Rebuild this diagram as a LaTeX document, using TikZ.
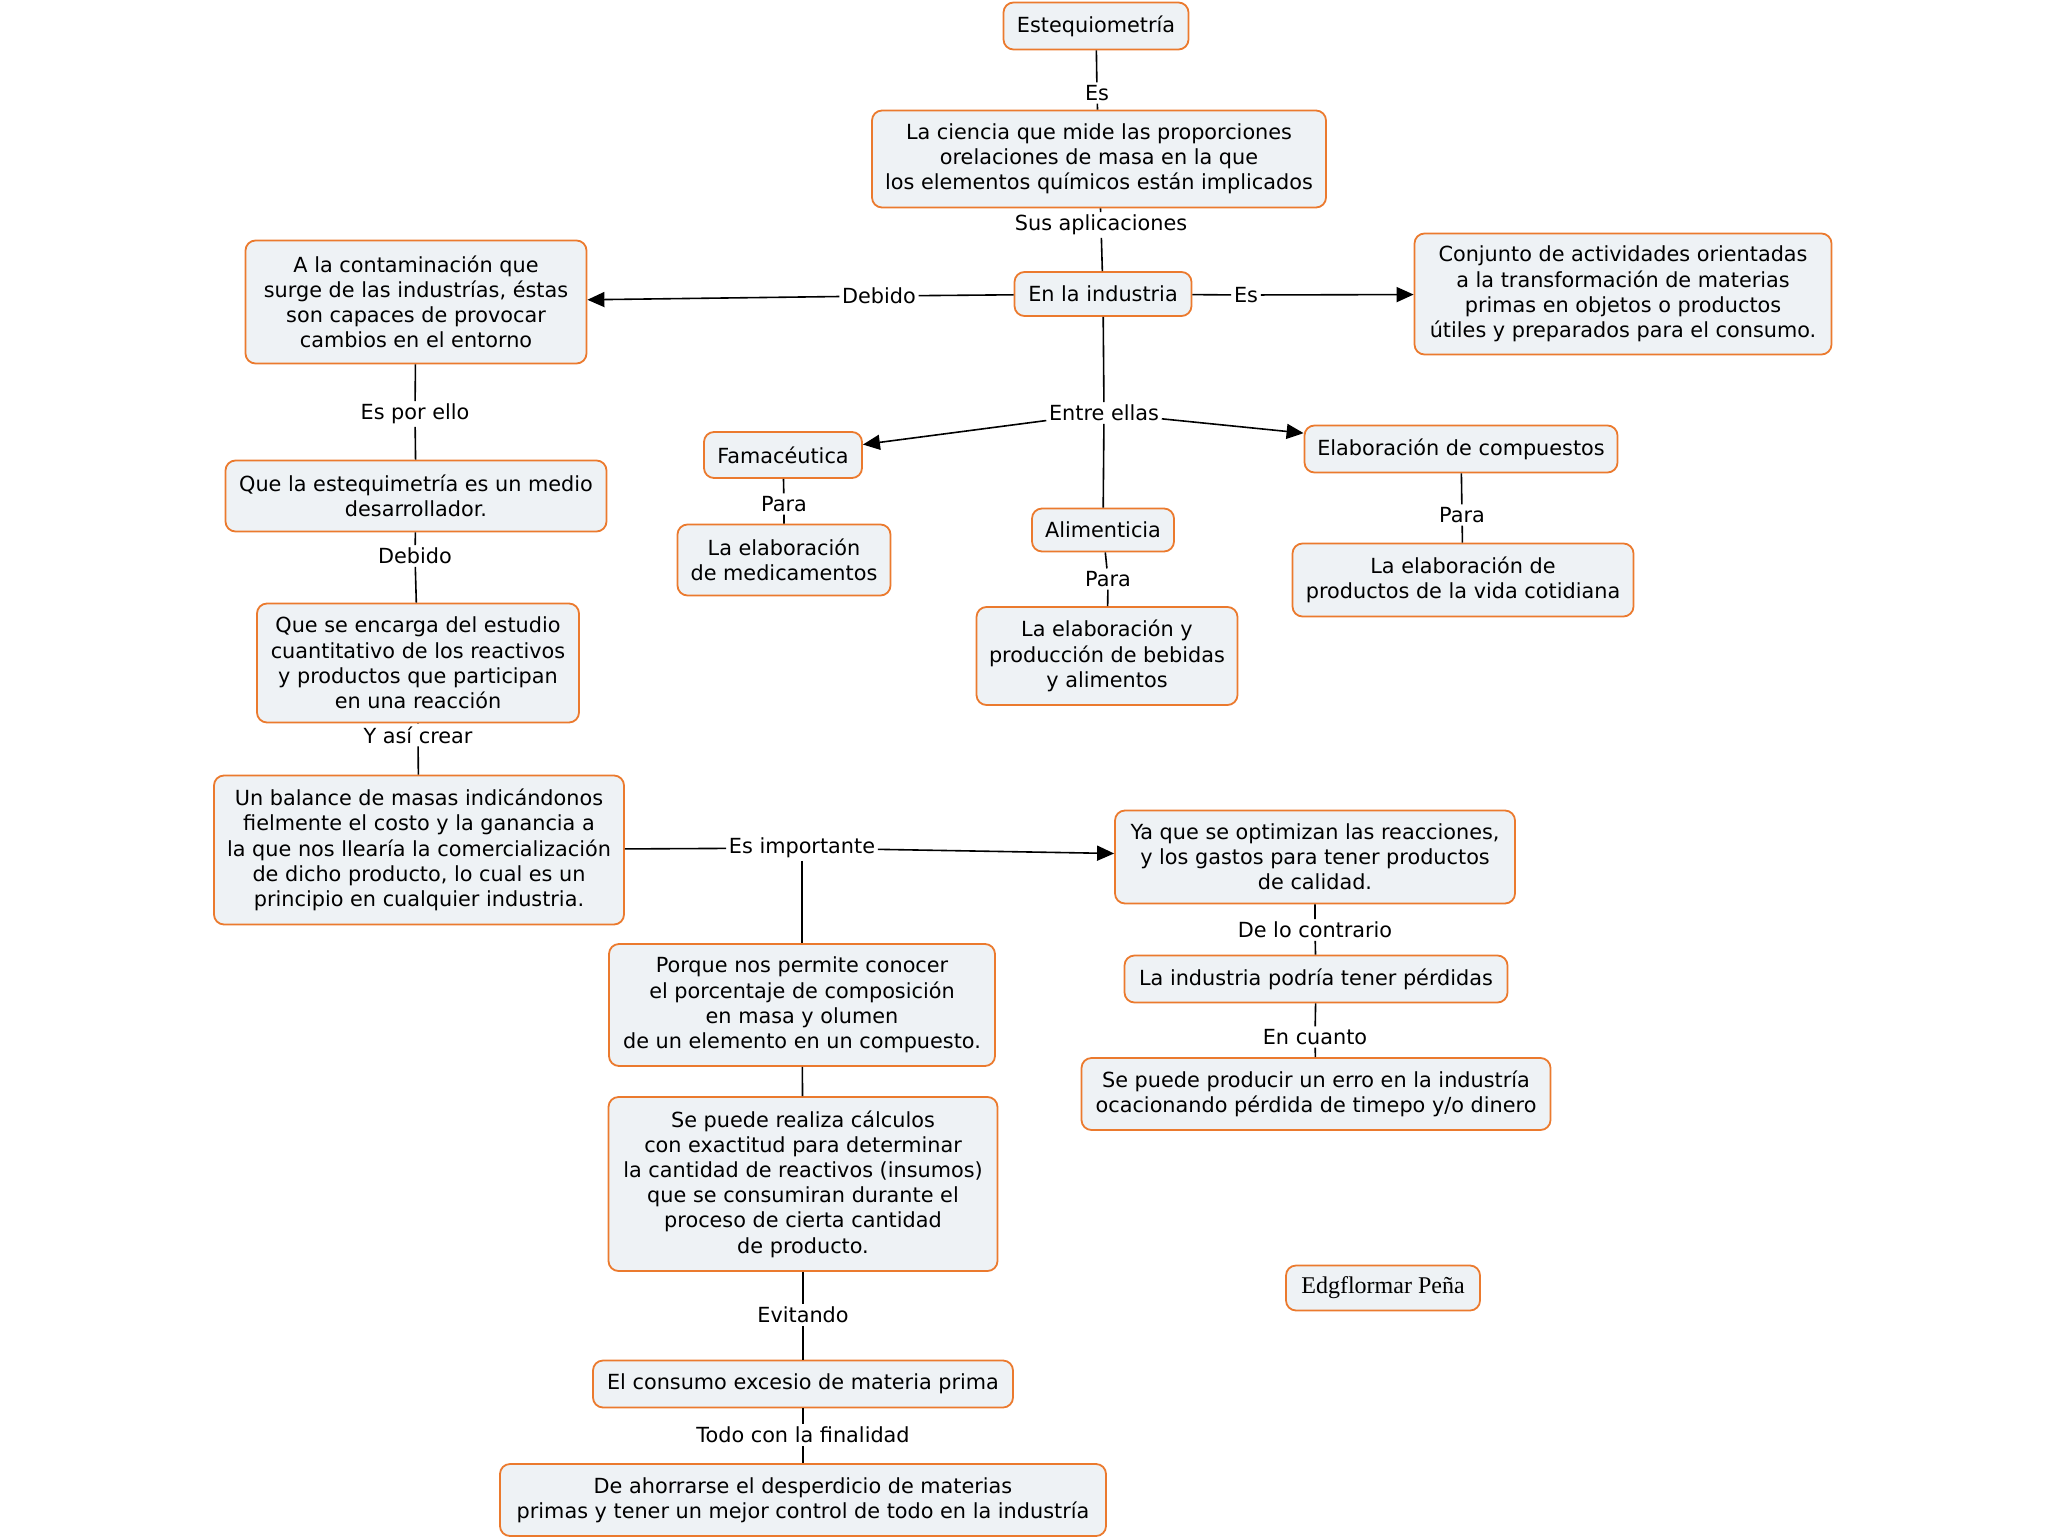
\documentclass[tikz,border=0pt]{standalone}
\usepackage{fontspec}
\setmainfont{DejaVu Sans}
\newfontfamily\authorfont{Liberation Serif}
\usetikzlibrary{arrows.meta, positioning}
\definecolor{mapOrange}{HTML}{EB7A2E}
\definecolor{mapFill}{HTML}{EEF2F5}
\tikzset{
  boxM/.style={rectangle, rounded corners=5pt, draw=mapOrange, fill=mapFill,
               line width=0.9pt, align=center, inner sep=2pt,
               font=\fontsize{10.4}{12.6}\selectfont},
  lblM/.style={fill=white, inner sep=1.2pt, font=\fontsize{10.4}{12}\selectfont},
  arrowK/.style={-{Triangle[length=8.5pt, width=7.5pt]}, line width=0.8pt},
  lineK/.style={line width=0.8pt},
}

\begin{document}
\begin{tikzpicture}[x=0.5pt, y=-0.5pt]
  \useasboundingbox (0,0) rectangle (2048,1540);

  % top of the map
  \node[boxM, minimum width=92.5pt, minimum height=23.5pt] (estq) at (1096,26) {Estequiometría};
  \node[boxM, minimum width=227pt, minimum height=48.5pt] (ciencia) at (1099,159)
    {La ciencia que mide las proporciones\\orelaciones de masa en la que\\los elementos químicos están implicados};
  \node[boxM, minimum width=88.5pt, minimum height=22pt] (ind) at (1103,294) {En la industria};
  \node[boxM, minimum width=170.5pt, minimum height=61.5pt] (contam) at (416,302)
    {A la contaminación que\\surge de las industrías, éstas\\son capaces de provocar\\cambios en el entorno};
  \node[boxM, minimum width=208.5pt, minimum height=60.5pt] (conj) at (1623,294)
    {Conjunto de actividades orientadas\\a la transformación de materias\\primas en objetos o productos\\útiles y preparados para el consumo.};

  % industrias
  \node[boxM, minimum width=79pt, minimum height=23pt] (fam) at (783,455) {Famacéutica};
  \node[boxM, minimum width=156.5pt, minimum height=23.5pt] (comp) at (1461,449) {Elaboración de compuestos};
  \node[boxM, minimum width=71pt, minimum height=21.5pt] (alim) at (1103,530) {Alimenticia};
  \node[boxM, minimum width=106.5pt, minimum height=35.5pt] (medic) at (784,560)
    {La elaboración\\de medicamentos};
  \node[boxM, minimum width=170.5pt, minimum height=36.5pt] (cotid) at (1463,580)
    {La elaboración de\\productos de la vida cotidiana};
  \node[boxM, minimum width=130.5pt, minimum height=49pt] (bebid) at (1107,656)
    {La elaboración y\\producción de bebidas\\y alimentos};

  % left column
  \node[boxM, minimum width=190.5pt, minimum height=35.5pt] (medio) at (416,496)
    {Que la estequimetría es un medio\\desarrollador.};
  \node[boxM, minimum width=161pt, minimum height=59.5pt] (encarga) at (418,663)
    {Que se encarga del estudio\\cuantitativo de los reactivos\\y productos que participan\\en una reacción};
  \node[boxM, minimum width=205pt, minimum height=74.5pt] (balance) at (419,850)
    {Un balance de masas indicándonos\\fielmente el costo y la ganancia a\\la que nos llearía la comercialización\\de dicho producto, lo cual es un\\principio en cualquier industria.};

  % right branch
  \node[boxM, minimum width=200pt, minimum height=46.5pt] (yaque) at (1315,857)
    {Ya que se optimizan las reacciones,\\y los gastos para tener productos\\de calidad.};
  \node[boxM, minimum width=191.5pt, minimum height=23.5pt] (perdidas) at (1316,979)
    {La industria podría tener pérdidas};
  \node[boxM, minimum width=234.5pt, minimum height=36pt] (erro) at (1316,1094)
    {Se puede producir un erro en la industría\\ocacionando pérdida de timepo y/o dinero};

  % middle column
  \node[boxM, minimum width=193pt, minimum height=61pt] (porque) at (802,1005)
    {Porque nos permite conocer\\el porcentaje de composición\\en masa y olumen\\de un elemento en un compuesto.};
  \node[boxM, minimum width=194.5pt, minimum height=87pt] (calculos) at (803,1184)
    {Se puede realiza cálculos\\con exactitud para determinar\\la cantidad de reactivos (insumos)\\que se consumiran durante el\\proceso de cierta cantidad\\de producto.};
  \node[boxM, minimum width=210pt, minimum height=23.5pt] (consumo) at (803,1384)
    {El consumo excesio de materia prima};
  \node[boxM, minimum width=303pt, minimum height=36pt] (ahorro) at (803,1500)
    {De ahorrarse el desperdicio de materias\\primas y tener un mejor control de todo en la industría};

  \node[boxM, minimum width=97pt, minimum height=22.5pt, font=\authorfont\fontsize{12}{13}\selectfont]
    (autor) at (1383,1288) {Edgflormar Peña};

  % linking words
  \node[lblM] (es1) at (1097,93) {Es};
  \node[lblM] (sus) at (1101,225) {Sus aplicaciones};
  \node[lblM] (deb1) at (879,296) {Debido};
  \node[lblM] (es2) at (1246,295) {Es};
  \node[lblM] (entre) at (1104,413) {Entre ellas};
  \node[lblM] (para1) at (784,504) {Para};
  \node[lblM] (para2) at (1108,579) {Para};
  \node[lblM] (para3) at (1462,515) {Para};
  \node[lblM] (porello) at (415,414) {Es por ello};
  \node[lblM] (deb2) at (415,556) {Debido};
  \node[lblM] (crear) at (418,735) {Y así crear};
  \node[lblM] (esimp) at (802,848) {Es importante};
  \node[lblM] (contra) at (1315,930) {De lo contrario};
  \node[lblM] (cuanto) at (1315,1037) {En cuanto};
  \node[lblM] (evit) at (803,1315) {Evitando};
  \node[lblM] (final) at (803,1435) {Todo con la finalidad};

  % connectors
  \draw[lineK] (estq) -- (es1) -- (ciencia);
  \draw[lineK] (ciencia) -- (sus) -- (ind);
  \draw[lineK] (ind) -- (deb1); \draw[arrowK] (deb1) -- (contam);
  \draw[lineK] (ind) -- (es2); \draw[arrowK] (es2) -- (conj);
  \draw[lineK] (ind) -- (entre) -- (alim);
  \draw[arrowK] (entre) -- (fam); \draw[arrowK] (entre) -- (comp);
  \draw[lineK] (fam) -- (para1) -- (medic);
  \draw[lineK] (alim) -- (para2) -- (bebid);
  \draw[lineK] (comp) -- (para3) -- (cotid);
  \draw[lineK] (contam) -- (porello) -- (medio);
  \draw[lineK] (medio) -- (deb2) -- (encarga);
  \draw[lineK] (encarga) -- (crear) -- (balance);
  \draw[lineK] (balance) -- (esimp); \draw[arrowK] (esimp) -- (yaque);
  \draw[lineK] (esimp) -- (porque);
  \draw[lineK] (porque) -- (calculos);
  \draw[lineK] (calculos) -- (evit) -- (consumo);
  \draw[lineK] (consumo) -- (final) -- (ahorro);
  \draw[lineK] (yaque) -- (contra) -- (perdidas);
  \draw[lineK] (perdidas) -- (cuanto) -- (erro);
\end{tikzpicture}
\end{document}
